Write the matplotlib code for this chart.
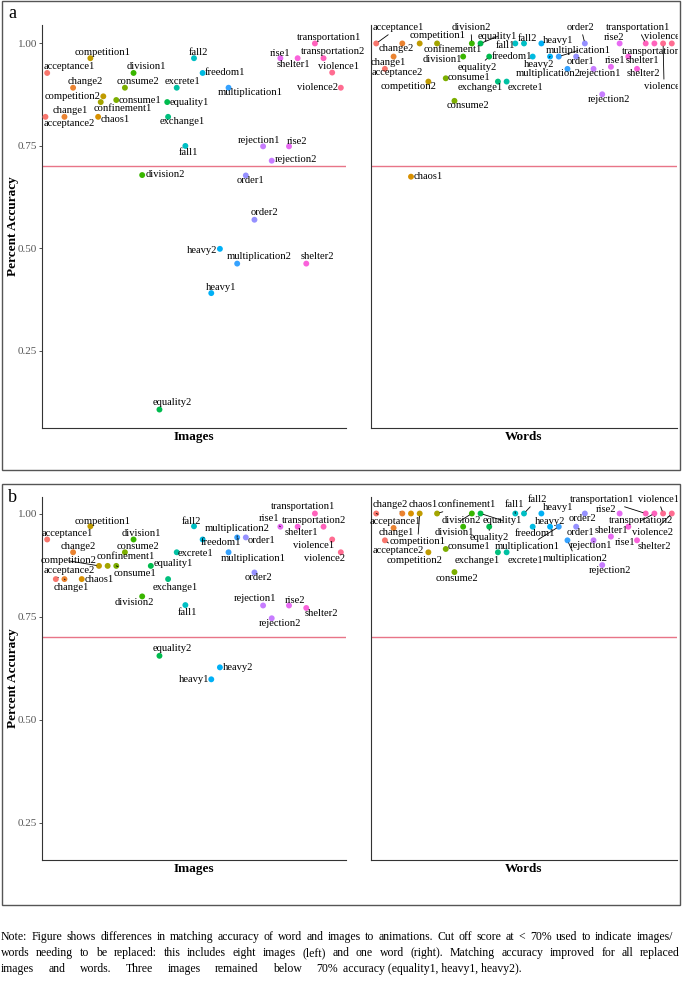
import matplotlib.pyplot as plt
from matplotlib.patches import Rectangle

plt.rcParams['font.family'] = 'Liberation Serif'

stimuli = ["acceptance1", "acceptance2", "change1", "change2", "chaos1",
           "competition1", "competition2", "confinement1", "consume1", "consume2",
           "division1", "division2", "equality1", "equality2", "exchange1",
           "excrete1", "fall1", "fall2", "freedom1", "heavy1",
           "heavy2", "multiplication1", "multiplication2", "order1", "order2",
           "rejection1", "rejection2", "rise1", "rise2", "shelter1",
           "shelter2", "transportation1", "transportation2", "violence1", "violence2"]
words = ["acceptance", "change", "chaos", "competition", "confinement", "consume",
         "division", "equality", "exchange", "excrete", "fall", "freedom", "heavy",
         "multiplication", "order", "rejection", "rise", "shelter", "transportation",
         "violence"]
hues = ["#F8766D", "#EA8331", "#D89000", "#C09B00", "#A3A500", "#7CAE00", "#39B600",
        "#00BB4E", "#00BF7D", "#00C1A3", "#00BFC4", "#00BAE0", "#00B0F6", "#35A2FF",
        "#9590FF", "#C77CFF", "#E76BF3", "#FA62DB", "#FF62BC", "#FF6C91"]

# matching accuracy per stimulus (a = before replacement, b = after)
images_a = [0.928, 0.821, 0.821, 0.892, 0.821, 0.964, 0.871, 0.857, 0.862, 0.892,
            0.928, 0.679, 0.857, 0.107, 0.821, 0.892, 0.750, 0.964, 0.928, 0.391,
            0.499, 0.892, 0.463, 0.678, 0.570, 0.749, 0.714, 0.964, 0.749, 0.964,
            0.463, 1.000, 0.964, 0.929, 0.892]
words_a = [1.000, 0.938, 0.968, 1.000, 0.675, 1.000, 0.907, 1.000, 0.915, 0.860,
           0.968, 1.000, 1.000, 0.968, 0.907, 0.907, 1.000, 1.000, 0.968, 1.000,
           0.968, 0.968, 0.938, 0.968, 1.000, 0.938, 0.876, 0.943, 1.000, 0.968,
           0.938, 1.000, 1.000, 1.000, 1.000]
images_b = [0.937, 0.841, 0.841, 0.906, 0.841, 0.969, 0.873, 0.873, 0.873, 0.906,
            0.937, 0.799, 0.873, 0.655, 0.841, 0.906, 0.778, 0.969, 0.937, 0.598,
            0.627, 0.906, 0.942, 0.942, 0.857, 0.777, 0.746, 0.968, 0.777, 0.968,
            0.771, 1.000, 0.968, 0.937, 0.906]
words_b = [1.000, 0.935, 0.965, 1.000, 1.000, 1.000, 0.906, 1.000, 0.914, 0.858,
           0.968, 1.000, 1.000, 0.968, 0.906, 0.906, 1.000, 1.000, 0.968, 1.000,
           0.968, 0.968, 0.935, 0.968, 1.000, 0.935, 0.875, 0.944, 1.000, 0.968,
           0.935, 1.000, 1.000, 1.000, 1.000]
# x position of each stimulus (panel a images drawn slightly shifted)
xpos = list(range(1, 36))
xpos_images_a = [1.0, 0.8, 3.0, 4.0, 6.9, 6.0, 7.5, 7.2, 9.0, 10.0,
                 11.0, 12.0, 14.9, 14.0, 15.0, 16.0, 17.0, 18.0, 19.0, 20.0,
                 21.0, 22.0, 23.0, 24.0, 25.0, 26.0, 27.0, 28.0, 29.0, 30.0,
                 31.0, 32.0, 33.0, 34.0, 35.0]
cutoff = 0.70

note = ["Note: Figure shows differences in matching accuracy of word and images to animations. Cut off score at < 70% used to indicate images/",
        "words needing to be replaced: this includes eight images (left) and one word (right). Matching accuracy improved for all replaced",
        "images and words. Three images remained below 70%",
        "accuracy (equality1, heavy1, heavy2)."]

# label nudges in pixels (right, down) and labels drawn with a segment
nudge_ia = {"acceptance1": (22, -6), "acceptance2": (24, 7), "change1": (6, -6), "change2": (12, -6),
            "chaos1": (17, 3), "competition1": (12, -6), "competition2": (-31, 0), "confinement1": (22, 6),
            "consume1": (24, 0), "consume2": (13, -6), "division1": (13, -6), "division2": (23, -1),
            "equality1": (22, 0), "equality2": (13, -7), "exchange1": (14, 5), "excrete1": (6, -6),
            "fall1": (3, 7), "fall2": (4, -6), "freedom1": (22, 0), "heavy1": (10, -6), "heavy2": (-18, 2),
            "multiplication1": (22, 5), "multiplication2": (22, -7), "order1": (5, 5), "order2": (10, -7),
            "rejection1": (-4, -6), "rejection2": (24, -1), "rise1": (0, -5), "rise2": (8, -5),
            "shelter1": (-4, 6), "shelter2": (11, -7), "transportation1": (14, -6),
            "transportation2": (9, -7), "violence1": (6, -6), "violence2": (-23, 0)}
nudge_wa = {"acceptance1": (22, -16), "acceptance2": (12, 4), "change1": (-5, 6), "change2": (-6, 5),
            "chaos1": (17, 0), "competition1": (18, -8), "competition2": (-20, 5), "confinement1": (16, 6),
            "consume1": (23, -1), "consume2": (13, 5), "division1": (-21, 3), "division2": (-1, -16),
            "equality1": (17, -7), "equality2": (-12, 11), "exchange1": (-18, 6), "excrete1": (19, 6),
            "fall1": (-10, 2), "fall2": (3, -5), "freedom1": (-21, 0), "heavy1": (17, -3), "heavy2": (-11, 8),
            "multiplication1": (19, -6), "multiplication2": (-19, 5), "order1": (4, 5), "order2": (-4, -16),
            "rejection1": (6, 5), "rejection2": (7, 5), "rise1": (4, -6), "rise2": (-6, -6),
            "shelter1": (14, 4), "shelter2": (6, 5), "transportation1": (-8, -16),
            "transportation2": (0, 8), "violence1": (1, 43), "violence2": (-7, -7)}
nudge_ib = {"acceptance1": (20, -6), "acceptance2": (13, -9), "change1": (7, 8), "change2": (5, -6),
            "chaos1": (18, 0), "competition1": (12, -5), "competition2": (-30, -5), "confinement1": (18, -9),
            "consume1": (19, 8), "consume2": (13, -6), "division1": (8, -6), "division2": (-8, 6),
            "equality1": (22, -2), "equality2": (13, -7), "exchange1": (7, 8), "excrete1": (19, 1),
            "fall1": (2, 7), "fall2": (-3, -5), "freedom1": (18, 3), "heavy1": (-17, 0), "heavy2": (18, 0),
            "multiplication1": (25, 6), "multiplication2": (0, -9), "order1": (16, 3), "order2": (4, 5),
            "rejection1": (-8, -7), "rejection2": (8, 5), "rise1": (-11, -8), "rise2": (6, -5),
            "shelter1": (4, 6), "shelter2": (15, 6), "transportation1": (-12, -7),
            "transportation2": (-10, -6), "violence1": (-19, 6), "violence2": (-16, 6)}
nudge_wb = {"acceptance1": (19, 8), "acceptance2": (13, 10), "change1": (3, 5), "change2": (-12, -9),
            "chaos1": (12, -9), "competition1": (-2, 28), "competition2": (-14, 8), "confinement1": (30, -9),
            "consume1": (23, -2), "consume2": (2, 6), "division1": (-9, 6), "division2": (-11, 7),
            "equality1": (22, 7), "equality2": (0, 11), "exchange1": (-21, 8), "excrete1": (19, 8),
            "fall1": (-1, -9), "fall2": (13, -14), "freedom1": (2, 7), "heavy1": (17, -6), "heavy2": (0, -5),
            "multiplication1": (-32, 20), "multiplication2": (8, 18), "order1": (4, 6), "order2": (-2, 5),
            "rejection1": (-3, 5), "rejection2": (8, 5), "rise1": (14, 6), "rise2": (-14, -4),
            "shelter1": (-17, 4), "shelter2": (17, 6), "transportation1": (-44, -14),
            "transportation2": (-13, 7), "violence1": (-5, -14), "violence2": (-19, 19)}
seg_ia = []
seg_wa = ["acceptance1", "division2", "equality1", "equality2", "heavy2", "multiplication1",
          "order2", "transportation1", "violence1"]
seg_ib = ["acceptance2", "change1", "competition2", "consume1", "multiplication2", "rise1"]
seg_wb = ["acceptance1", "acceptance2", "change2", "competition1", "confinement1", "division2",
          "equality1", "equality2", "fall1", "fall2", "multiplication1", "multiplication2",
          "transportation1", "transportation2", "violence1", "violence2"]

W, H = 685, 982
fig = plt.figure(figsize=(W / 100, H / 100), dpi=100)
clip = Rectangle((0, 0), 678 / W, 1, transform=fig.transFigure)


def box(l, t, r, b):
    return [l / W, 1 - b / H, (r - l) / W, (b - t) / H]


def panel(rect, xs, ys, nudges, segs, ylim, first):
    ax = fig.add_axes(rect)
    ax.set_xlim(0.4, 35.6)
    ax.set_ylim(*ylim)
    for s in ["top", "right"]:
        ax.spines[s].set_visible(False)
    for s in ["left", "bottom"]:
        ax.spines[s].set_color("#333333")
        ax.spines[s].set_linewidth(0.8)
    ax.set_xticks([])
    ax.set_yticks([0.25, 0.5, 0.75, 1.0])
    if first:
        ax.set_yticklabels(["0.25", "0.50", "0.75", "1.00"])
        ax.tick_params(axis="y", length=2.5, width=0.6, color="#333333",
                       labelsize=8, labelcolor="#555555", pad=1)
    else:
        ax.tick_params(axis="y", length=0, labelleft=False)
    ax.axhline(cutoff, color="#e87588", lw=1.0, zorder=1)
    cols = [hues[words.index(n[:-1])] for n in stimuli]
    ax.scatter(xs, ys, s=18, c=cols, lw=0, zorder=3)
    for n, x, y in zip(stimuli, xs, ys):
        dx, dy = nudges[n]
        ap = dict(arrowstyle="-", lw=0.6, color="black", shrinkA=0, shrinkB=2) if n in segs else None
        t = ax.annotate(n, (x, y), xytext=(dx, -dy), textcoords="offset pixels",
                        ha="center", va="center", fontsize=7.6, arrowprops=ap, zorder=4)
        t.set_clip_path(clip)
    return ax


panel(box(42, 25, 346, 428), xpos_images_a, images_a, nudge_ia, seg_ia, (0.062, 1.045), True)
panel(box(371, 25, 677, 428), xpos, words_a, nudge_wa, seg_wa, (0.062, 1.045), False)
panel(box(42, 497, 346, 860), xpos, images_b, nudge_ib, seg_ib, (0.16, 1.04), True)
panel(box(371, 497, 677, 860), xpos, words_b, nudge_wb, seg_wb, (0.16, 1.04), False)

# outer frames, panel letters and axis titles
for t, b in [(1, 470), (484, 905)]:
    fig.add_artist(Rectangle((2 / W, 1 - b / H), 678 / W, (b - t) / H, transform=fig.transFigure,
                             fill=False, ec="#555555", lw=1.0))
fig.text(12 / W, 1 - 13 / H, "a", fontsize=13, ha="center", va="center")
fig.text(12 / W, 1 - 497 / H, "b", fontsize=13, ha="center", va="center")
for yc in [226, 678]:
    fig.text(13.5 / W, 1 - yc / H, "Percent Accuracy", rotation=90, fontsize=9.5,
             fontweight="bold", ha="center", va="center")
for yc in [437, 869]:
    fig.text(194 / W, 1 - yc / H, "Images", fontsize=9.5, fontweight="bold", ha="center", va="center")
    fig.text(524 / W, 1 - yc / H, "Words", fontsize=9.5, fontweight="bold", ha="center", va="center")

# note: words spread over the widths used in the original caption
fig.canvas.draw()
renderer = fig.canvas.get_renderer()
for line, yc, left, right in zip(note, [937, 953, 969, 969], [1, 1, 1, 343], [673, 680, 338, None]):
    if right is None:
        fig.text(left / W, 1 - yc / H, line, fontsize=8.5, ha="left", va="center")
        continue
    parts = line.split()
    objs = [fig.text(0, 1 - yc / H, p, fontsize=8.5, ha="left", va="center") for p in parts]
    widths = [o.get_window_extent(renderer).width for o in objs]
    gap = (right - left - sum(widths)) / (len(parts) - 1)
    x = left
    for o, w in zip(objs, widths):
        o.set_x(x / W)
        x += w + gap

fig.savefig("out.png", dpi=100)
